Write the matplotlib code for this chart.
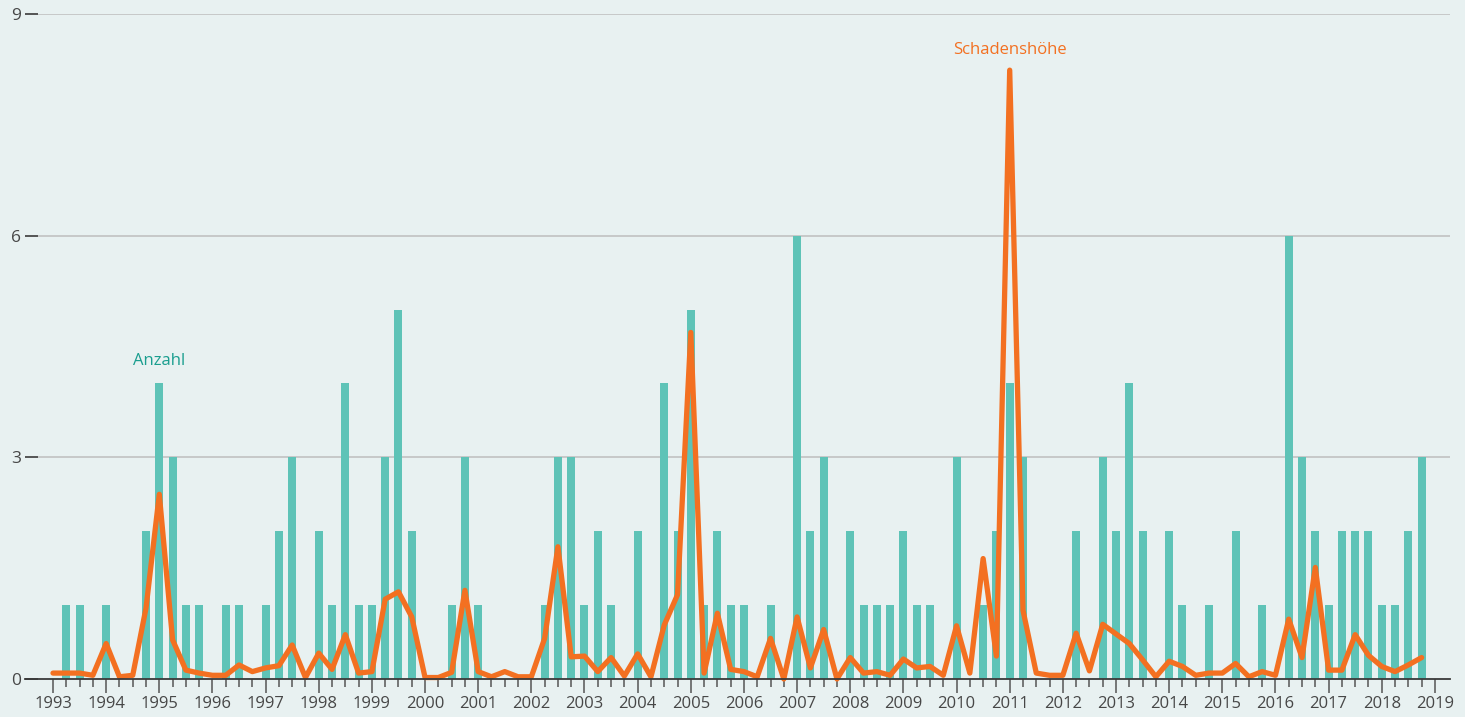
import matplotlib.pyplot as plt
import numpy as np

# quarterly data 1993 Q1 .. 2018 Q4
years = list(range(1993, 2019))
anzahl = [
    0, 1, 1, 0,   1, 0, 0, 2,   4, 3, 1, 1,   0, 1, 1, 0,   1, 2, 3, 0,
    2, 1, 4, 1,   1, 3, 5, 2,   0, 0, 1, 3,   1, 0, 0, 0,   0, 1, 3, 3,
    1, 2, 1, 0,   2, 0, 4, 2,   5, 1, 2, 1,   1, 0, 1, 0,   6, 2, 3, 0,
    2, 1, 1, 1,   2, 1, 1, 0,   3, 0, 1, 2,   4, 3, 0, 0,   0, 2, 0, 3,
    2, 4, 2, 0,   2, 1, 0, 1,   0, 2, 0, 1,   0, 6, 3, 2,   1, 2, 2, 2,
    1, 1, 2, 3,
]
schadenshoehe = [
    0.08, 0.08, 0.08, 0.05,  0.48, 0.03, 0.05, 0.96,  2.50, 0.53, 0.12, 0.08,
    0.05, 0.05, 0.19, 0.10,  0.15, 0.18, 0.46, 0.02,  0.35, 0.13, 0.60, 0.08,
    0.10, 1.08, 1.18, 0.84,  0.02, 0.02, 0.09, 1.20,  0.10, 0.03, 0.10, 0.03,
    0.03, 0.55, 1.79, 0.30,  0.31, 0.10, 0.29, 0.04,  0.34, 0.03, 0.73, 1.14,
    4.69, 0.08, 0.89, 0.13,  0.10, 0.03, 0.55, 0.00,  0.84, 0.15, 0.67, 0.00,
    0.29, 0.08, 0.10, 0.05,  0.27, 0.15, 0.17, 0.05,  0.72, 0.08, 1.63, 0.31,
    8.24, 0.93, 0.08, 0.05,  0.05, 0.62, 0.11, 0.74,  0.61, 0.48, 0.26, 0.03,
    0.24, 0.17, 0.05, 0.08,  0.08, 0.21, 0.03, 0.10,  0.05, 0.81, 0.29, 1.51,
    0.12, 0.12, 0.60, 0.32,  0.17, 0.10, 0.19, 0.29,
]
year_ticks = list(range(1993, 2020))
y_ticks = [0, 3, 6, 9]

bg = '#e8f1f1'
teal = '#5ec3b7'
orange = '#f37021'
dark = '#3a3a3a'
label_col = '#474747'

plt.rcParams['font.family'] = ['Open Sans', 'DejaVu Sans']

x = np.array([y + q / 4 for y in years for q in range(4)])

W, H = 1465, 717
fig = plt.figure(figsize=(W / 100, H / 100), dpi=100, facecolor=bg)
ax = fig.add_axes([38 / W, (H - 679) / H, (1450 - 38) / W, (679 - 14) / H])
ax.set_facecolor(bg)

px_per_year = 53.15
x0 = 1993 - 15 / px_per_year
x1 = 1993 + (1450 - 53) / px_per_year
ax.set_xlim(x0, x1)
ax.set_ylim(0, 9)

ax.bar(x, anzahl, width=8 / px_per_year, color=teal, zorder=2)
ax.plot(x, schadenshoehe, color=orange, lw=3.8, solid_joinstyle='round',
        solid_capstyle='round', zorder=3, clip_on=False)

for v in y_ticks[1:]:
    ax.axhline(v, color='#bdbdbd', lw=1.1, zorder=1)

for s in ['top', 'right', 'left']:
    ax.spines[s].set_visible(False)
ax.spines['bottom'].set_color(dark)
ax.spines['bottom'].set_linewidth(1.3)
ax.spines['bottom'].set_bounds(x0 - 13 / px_per_year, x1)
ax.spines['bottom'].set_zorder(4)

ax.set_yticks(y_ticks)
ax.set_yticklabels([str(v) for v in y_ticks])
ax.tick_params(axis='y', length=9.4, width=1.2, color=dark, pad=3,
               labelsize=12.5, labelcolor=label_col)

ax.set_xticks(year_ticks)
ax.set_xticklabels([str(v) for v in year_ticks])
ax.set_xticks(x.tolist() + [2019], minor=True)
ax.tick_params(axis='x', which='major', length=10, width=1.1, color='#555555',
               pad=2.5, labelsize=12, labelcolor=label_col)
ax.tick_params(axis='x', which='minor', length=5.5, width=1.1, color='#555555')

ax.text(1995, 4.30, 'Anzahl', color='#1a9e8f', fontsize=12,
        ha='center', va='center')
ax.text(2011, 8.51, 'Schadenshöhe', color=orange, fontsize=12,
        ha='center', va='center')

fig.savefig('out.png', dpi=100, facecolor=bg)
